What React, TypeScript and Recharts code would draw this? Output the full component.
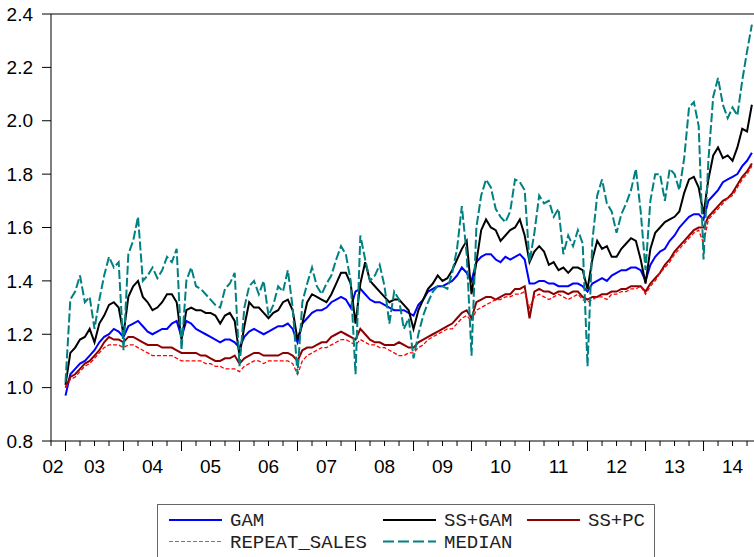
import React from "react";
import { LineChart, Line, XAxis, YAxis, ReferenceLine } from "recharts";

// monthly index values, Jan 2003 .. Nov 2014
const FIRST_YEAR = 2003;

const yearLabels = ["02", "03", "04", "05", "06", "07", "08", "09", "10", "11", "12", "13", "14"];
const yTicks = [0.8, 1.0, 1.2, 1.4, 1.6, 1.8, 2.0, 2.2, 2.4];

const gam = [
  0.97, 1.05, 1.07, 1.09, 1.10, 1.12, 1.14, 1.17, 1.19, 1.20, 1.22, 1.21,
  1.19, 1.23, 1.24, 1.25, 1.23, 1.21, 1.20, 1.21, 1.22, 1.22, 1.24, 1.25,
  1.19, 1.25, 1.24, 1.22, 1.21, 1.20, 1.19, 1.18, 1.17, 1.18, 1.18, 1.17,
  1.15, 1.19, 1.21, 1.22, 1.21, 1.20, 1.21, 1.22, 1.23, 1.23, 1.24, 1.22,
  1.17, 1.24, 1.26, 1.28, 1.29, 1.29, 1.30, 1.32, 1.33, 1.34, 1.33, 1.30,
  1.36, 1.37, 1.35, 1.33, 1.32, 1.32, 1.31, 1.30, 1.29, 1.29, 1.29, 1.28,
  1.27, 1.31, 1.33, 1.36, 1.37, 1.38, 1.38, 1.39, 1.40, 1.42, 1.45, 1.43,
  1.40, 1.47, 1.49, 1.50, 1.50, 1.48, 1.47, 1.49, 1.48, 1.49, 1.50, 1.48,
  1.39, 1.39, 1.40, 1.40, 1.39, 1.39, 1.38, 1.38, 1.38, 1.39, 1.39, 1.38,
  1.36, 1.39, 1.40, 1.41, 1.40, 1.42, 1.43, 1.44, 1.44, 1.45, 1.45, 1.44,
  1.40, 1.46, 1.49, 1.51, 1.52, 1.55, 1.57, 1.60, 1.62, 1.64, 1.65, 1.65,
  1.63, 1.70, 1.72, 1.74, 1.77, 1.78, 1.79, 1.80, 1.83, 1.85, 1.88,
];

const ssGam = [
  1.01, 1.13, 1.15, 1.18, 1.19, 1.22, 1.17, 1.24, 1.27, 1.31, 1.32, 1.30,
  1.20, 1.34, 1.38, 1.40, 1.34, 1.32, 1.29, 1.30, 1.32, 1.35, 1.35, 1.32,
  1.18, 1.29, 1.30, 1.29, 1.29, 1.28, 1.28, 1.27, 1.24, 1.27, 1.28, 1.25,
  1.12, 1.23, 1.32, 1.30, 1.30, 1.28, 1.26, 1.28, 1.29, 1.32, 1.33, 1.29,
  1.18, 1.24, 1.32, 1.35, 1.34, 1.33, 1.32, 1.35, 1.39, 1.43, 1.43, 1.39,
  1.24, 1.39, 1.47, 1.40, 1.38, 1.36, 1.34, 1.32, 1.33, 1.33, 1.31, 1.29,
  1.22, 1.29, 1.33, 1.37, 1.39, 1.42, 1.40, 1.41, 1.44, 1.48, 1.52, 1.55,
  1.35, 1.47, 1.59, 1.63, 1.60, 1.59, 1.55, 1.57, 1.59, 1.60, 1.63, 1.57,
  1.47, 1.51, 1.53, 1.51, 1.46, 1.47, 1.44, 1.45, 1.43, 1.45, 1.45, 1.44,
  1.37, 1.48, 1.55, 1.52, 1.53, 1.49, 1.49, 1.52, 1.54, 1.56, 1.55, 1.48,
  1.39, 1.52, 1.58, 1.60, 1.62, 1.63, 1.64, 1.66, 1.73, 1.78, 1.79, 1.75,
  1.65, 1.78, 1.87, 1.90, 1.86, 1.87, 1.85, 1.90, 1.97, 1.96, 2.06,
];

const ssPc = [
  1.00, 1.04, 1.05, 1.07, 1.09, 1.10, 1.12, 1.14, 1.17, 1.19, 1.18, 1.18,
  1.17, 1.19, 1.19, 1.18, 1.17, 1.16, 1.16, 1.16, 1.15, 1.15, 1.15, 1.14,
  1.13, 1.13, 1.13, 1.13, 1.12, 1.12, 1.11, 1.10, 1.10, 1.11, 1.11, 1.12,
  1.09, 1.11, 1.12, 1.13, 1.13, 1.12, 1.12, 1.12, 1.12, 1.13, 1.13, 1.12,
  1.10, 1.14, 1.15, 1.15, 1.16, 1.17, 1.17, 1.19, 1.20, 1.21, 1.20, 1.19,
  1.18, 1.22, 1.20, 1.18, 1.17, 1.17, 1.16, 1.16, 1.16, 1.17, 1.16, 1.15,
  1.15, 1.17, 1.18, 1.19, 1.20, 1.21, 1.22, 1.23, 1.24, 1.26, 1.28, 1.29,
  1.26, 1.32, 1.33, 1.34, 1.34, 1.33, 1.34, 1.35, 1.35, 1.37, 1.37, 1.38,
  1.26, 1.36, 1.37, 1.36, 1.36, 1.35, 1.36, 1.36, 1.35, 1.36, 1.36, 1.34,
  1.33, 1.34, 1.34, 1.35, 1.35, 1.36, 1.36, 1.37, 1.37, 1.38, 1.38, 1.38,
  1.36, 1.39, 1.41, 1.43, 1.46, 1.48, 1.51, 1.53, 1.55, 1.57, 1.59, 1.60,
  1.60, 1.64, 1.66, 1.68, 1.70, 1.71, 1.73, 1.76, 1.79, 1.81, 1.84,
];

const repeatSales = [
  1.00, 1.03, 1.04, 1.06, 1.08, 1.09, 1.11, 1.13, 1.15, 1.16, 1.16, 1.16,
  1.15, 1.16, 1.16, 1.15, 1.14, 1.13, 1.12, 1.12, 1.12, 1.12, 1.12, 1.11,
  1.10, 1.10, 1.10, 1.10, 1.10, 1.09, 1.09, 1.08, 1.08, 1.07, 1.07, 1.07,
  1.06, 1.08, 1.09, 1.10, 1.10, 1.09, 1.10, 1.10, 1.10, 1.10, 1.10, 1.09,
  1.05, 1.10, 1.12, 1.13, 1.14, 1.15, 1.15, 1.16, 1.17, 1.18, 1.18, 1.17,
  1.16, 1.18, 1.17, 1.16, 1.16, 1.15, 1.15, 1.14, 1.13, 1.12, 1.12, 1.13,
  1.13, 1.15, 1.16, 1.18, 1.19, 1.20, 1.21, 1.22, 1.22, 1.24, 1.26, 1.27,
  1.25, 1.29, 1.30, 1.31, 1.32, 1.33, 1.33, 1.34, 1.34, 1.35, 1.35, 1.36,
  1.30, 1.34, 1.35, 1.34, 1.33, 1.34, 1.35, 1.34, 1.33, 1.34, 1.35, 1.33,
  1.32, 1.33, 1.34, 1.34, 1.33, 1.35, 1.35, 1.36, 1.36, 1.37, 1.37, 1.38,
  1.35, 1.38, 1.40, 1.43, 1.45, 1.47, 1.50, 1.52, 1.54, 1.56, 1.58, 1.59,
  1.54, 1.63, 1.65, 1.67, 1.69, 1.71, 1.72, 1.75, 1.78, 1.80, 1.83,
];

const median = [
  1.02, 1.33, 1.36, 1.42, 1.32, 1.34, 1.22, 1.33, 1.42, 1.49, 1.45, 1.47,
  1.14, 1.50, 1.55, 1.64, 1.40, 1.42, 1.45, 1.41, 1.44, 1.49, 1.47, 1.52,
  1.14, 1.40, 1.45, 1.38, 1.37, 1.35, 1.33, 1.31, 1.30, 1.37, 1.39, 1.43,
  1.08, 1.30, 1.38, 1.40, 1.35, 1.40, 1.27, 1.31, 1.38, 1.36, 1.44, 1.30,
  1.05, 1.32, 1.39, 1.45, 1.38, 1.35, 1.39, 1.42, 1.48, 1.53, 1.50, 1.40,
  1.05, 1.57, 1.48, 1.40, 1.42, 1.46, 1.38, 1.24, 1.36, 1.33, 1.22, 1.26,
  1.11, 1.20, 1.27, 1.32, 1.36, 1.38, 1.38, 1.37, 1.43, 1.52, 1.68, 1.50,
  1.12, 1.60, 1.72, 1.78, 1.75, 1.67, 1.64, 1.62, 1.66, 1.78, 1.77, 1.74,
  1.47, 1.58, 1.72, 1.69, 1.70, 1.64, 1.67, 1.50, 1.57, 1.53, 1.59, 1.54,
  1.08, 1.55, 1.72, 1.78, 1.69, 1.66, 1.58, 1.65, 1.69, 1.74, 1.82, 1.66,
  1.44, 1.70, 1.80, 1.80, 1.70, 1.82, 1.80, 1.74, 1.86, 2.05, 2.07, 1.98,
  1.48, 1.85, 2.09, 2.16, 2.06, 2.01, 2.05, 2.02, 2.15, 2.26, 2.36,
];

const chartData = gam.map((v, i) => ({
  t: FIRST_YEAR + i / 12,
  gam: v,
  ssGam: ssGam[i],
  ssPc: ssPc[i],
  repeatSales: repeatSales[i],
  median: median[i],
}));

// quarter tick marks, year starts get a longer tick
const quarterTicks = Array.from({ length: 49 }, (_, k) => 2002.75 + k * 0.25);

const axisFont = "'Liberation Sans', Arial, sans-serif";
const monoFont = "'Liberation Mono', 'Courier New', monospace";

function YearTick(props: any) {
  const { x, y, payload } = props;
  const v: number = payload.value;
  const frac = v - Math.floor(v);
  const major = frac < 1e-6;
  let label: string | null = null;
  if (Math.abs(frac - 0.5) < 1e-6) label = yearLabels[Math.floor(v) - 2002];
  if (v === 2002.75) label = yearLabels[0];
  return (
    <g>
      <line x1={x} x2={x} y1={y} y2={y + (major ? 10 : 5)} stroke="#000" />
      {label && (
        <text
          x={x + (v === 2002.75 ? 2 : 0)}
          y={y + 25}
          dy="0.355em"
          textAnchor="middle"
          fontSize={19}
          fontFamily={axisFont}
          fill="#000"
        >
          {label}
        </text>
      )}
    </g>
  );
}

const legendRows = [
  [
    { name: "GAM", color: "#0000ff", width: 2, dash: undefined },
    { name: "SS+GAM", color: "#000000", width: 2, dash: undefined },
    { name: "SS+PC", color: "#8b0000", width: 2, dash: undefined },
  ],
  [
    { name: "REPEAT_SALES", color: "#ff4040", width: 1, dash: "4 2" },
    { name: "MEDIAN", color: "#008080", width: 2, dash: "11 4" },
  ],
];
const legendCols = [11, 225, 369];

function LegendBox() {
  return (
    <div
      style={{
        position: "absolute",
        left: 157,
        top: 504,
        width: 496,
        height: 70,
        border: "1px solid #666",
        background: "#fff",
      }}
    >
      <svg width={496} height={70}>
        {legendRows.map((row, r) =>
          row.map((item, c) => {
            const lx = legendCols[c];
            const ly = 15 + r * 21.5;
            return (
              <g key={item.name}>
                <line
                  x1={lx}
                  x2={lx + 53}
                  y1={ly}
                  y2={ly}
                  stroke={item.color}
                  strokeWidth={item.width}
                  strokeDasharray={item.dash}
                />
                <text x={lx + 61} y={ly + 6} fontSize={19} fontFamily={monoFont} fill="#222">
                  {item.name}
                </text>
              </g>
            );
          })
        )}
      </svg>
    </div>
  );
}

export default function App() {
  return (
    <div
      style={{
        position: "fixed",
        left: 0,
        top: 0,
        width: 754,
        height: 557,
        overflow: "hidden",
        background: "#fff",
      }}
    >
      <LineChart
        width={760}
        height={557}
        data={chartData}
        margin={{ top: 14, right: 6, left: 0, bottom: 0 }}
      >
        <XAxis
          dataKey="t"
          type="number"
          domain={[2002.75, 2014.87]}
          allowDataOverflow
          ticks={quarterTicks}
          interval={0}
          height={116}
          stroke="#000"
          tickLine={false}
          tickSize={0}
          tickMargin={0}
          tick={<YearTick />}
        />
        <YAxis
          type="number"
          domain={[0.8, 2.4]}
          ticks={yTicks}
          width={51}
          stroke="#000"
          tickSize={9}
          tickMargin={9}
          tickFormatter={(v: number) => v.toFixed(1)}
          tick={{ fontSize: 19, fill: "#000", fontFamily: axisFont }}
        />
        <ReferenceLine y={2.4} stroke="#000" />
        <Line type="linear" dataKey="gam" stroke="#0000ff" strokeWidth={2} dot={false} isAnimationActive={false} />
        <Line type="linear" dataKey="ssGam" stroke="#000000" strokeWidth={2} dot={false} isAnimationActive={false} />
        <Line type="linear" dataKey="ssPc" stroke="#8b0000" strokeWidth={2} dot={false} isAnimationActive={false} />
        <Line
          type="linear"
          dataKey="repeatSales"
          stroke="#ff0000"
          strokeWidth={1.3}
          strokeDasharray="4 2"
          dot={false}
          isAnimationActive={false}
        />
        <Line
          type="linear"
          dataKey="median"
          stroke="#008080"
          strokeWidth={2}
          strokeDasharray="9 3"
          dot={false}
          isAnimationActive={false}
        />
      </LineChart>
      <LegendBox />
    </div>
  );
}
